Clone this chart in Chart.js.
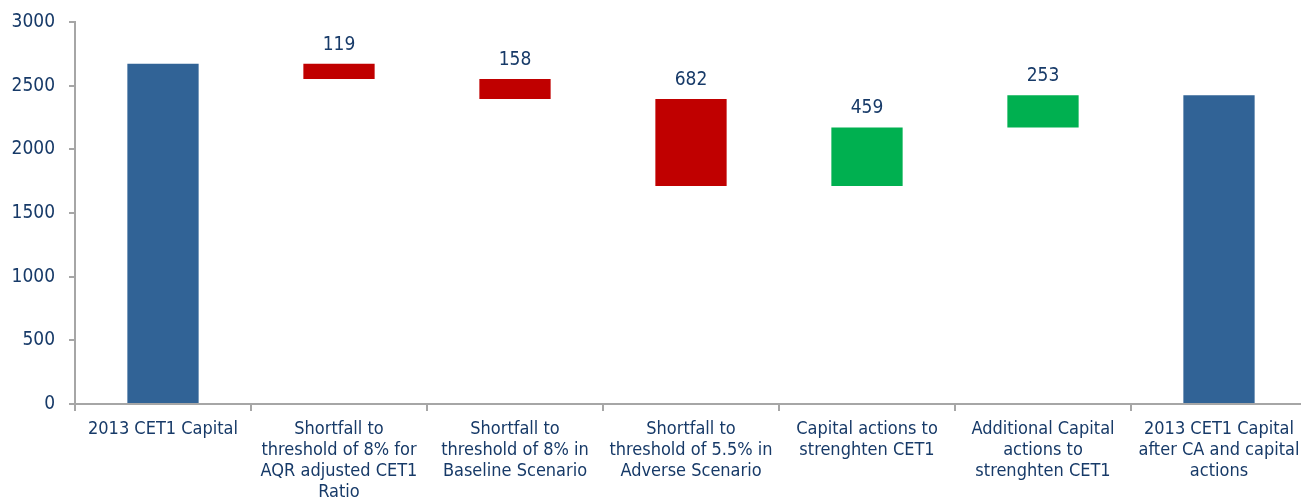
<!DOCTYPE html>
<html>
  <head>
    <meta charset="UTF-8" />
    <title>CET1 Capital Bridge</title>
    <script src="https://cdn.jsdelivr.net/npm/chart.js"></script>
    <style>
      body {
        margin: 0;
        background: #fff;
        overflow: hidden;
      }
      .wrap {
        width: 1310px;
        height: 497px;
        position: relative;
      }
    </style>
  </head>
  <body>
    <div class="wrap">
      <canvas id="bridgeChart"></canvas>
    </div>

    <script>
      const categories = [
        ["2013 CET1 Capital"],
        ["Shortfall to", "threshold of 8% for", "AQR adjusted CET1", "Ratio"],
        ["Shortfall to", "threshold of 8% in", "Baseline Scenario"],
        ["Shortfall to", "threshold of 5.5% in", "Adverse Scenario"],
        ["Capital actions to", "strenghten CET1"],
        ["Additional Capital", "actions to", "strenghten CET1"],
        ["2013 CET1 Capital", "after CA and capital", "actions"],
      ];
      const startCapital = 2672;
      const steps = [-119, -158, -682, 459, 253];
      const endCapital = 2425;
      const yTicks = [0, 500, 1000, 1500, 2000, 2500, 3000];

      const BLUE = "#316396";
      const RED = "#c00000";
      const GREEN = "#00b050";
      const NAVY = "#173a68";
      const FONT = "'DejaVu Sans Condensed', 'DejaVu Sans', sans-serif";

      // build floating bars for the bridge
      const ranges = [[0, startCapital]];
      const colors = [BLUE];
      let level = startCapital;
      steps.forEach((s) => {
        ranges.push([level, level + s]);
        colors.push(s < 0 ? RED : GREEN);
        level += s;
      });
      ranges.push([0, endCapital]);
      colors.push(BLUE);

      const stepLabels = {
        id: "stepLabels",
        afterDatasetsDraw(chart) {
          const ctx = chart.ctx;
          const meta = chart.getDatasetMeta(0);
          ctx.save();
          ctx.font = "19px " + FONT;
          ctx.fillStyle = NAVY;
          ctx.textAlign = "center";
          ctx.textBaseline = "middle";
          steps.forEach((s, i) => {
            const bar = meta.data[i + 1];
            const top = Math.min(bar.y, bar.base);
            ctx.fillText(String(Math.abs(s)), bar.x, top - 19);
          });
          ctx.restore();
        },
      };

      new Chart(document.getElementById("bridgeChart"), {
        type: "bar",
        data: {
          labels: categories,
          datasets: [
            {
              data: ranges,
              backgroundColor: colors,
              borderSkipped: false,
              categoryPercentage: 1,
              barPercentage: 0.405,
            },
          ],
        },
        options: {
          responsive: true,
          maintainAspectRatio: false,
          animation: false,
          layout: { padding: { top: 0, right: 3, left: 0, bottom: 0 } },
          plugins: {
            legend: { display: false },
            tooltip: { enabled: false },
          },
          scales: {
            x: {
              grid: {
                offset: true,
                drawOnChartArea: false,
                drawTicks: true,
                tickLength: 7,
                color: "#a6a6a6",
                lineWidth: 2,
              },
              border: { color: "#a6a6a6", width: 2 },
              ticks: {
                color: NAVY,
                font: { family: FONT, size: 18, lineHeight: 1.17 },
                maxRotation: 0,
                autoSkip: false,
                padding: 8,
              },
              afterFit(scale) {
                scale.height = 93;
              },
            },
            y: {
              min: 0,
              max: 3000,
              afterBuildTicks(scale) {
                scale.ticks = yTicks.map((v) => ({ value: v }));
              },
              grid: {
                drawOnChartArea: false,
                tickLength: 6,
                color: "#a6a6a6",
                lineWidth: 2,
              },
              border: { color: "#a6a6a6", width: 2 },
              ticks: {
                color: NAVY,
                font: { family: FONT, size: 19 },
                padding: 14,
                callback: (v) => String(v),
              },
              afterFit(scale) {
                scale.width = 75;
                scale.paddingTop = 22;
                scale.paddingBottom = 0;
              },
            },
          },
        },
        plugins: [stepLabels],
      });
    </script>
  </body>
</html>
